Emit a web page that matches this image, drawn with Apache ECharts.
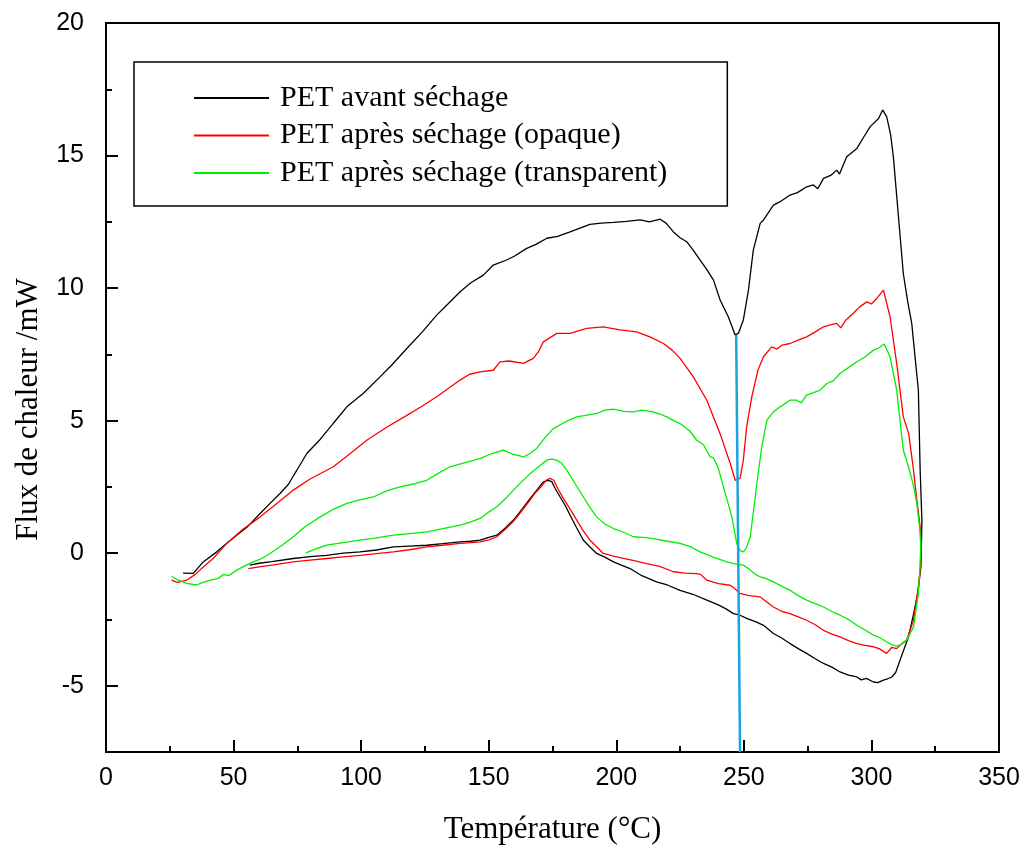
<!DOCTYPE html>
<html>
<head>
<meta charset="utf-8">
<script src="https://cdn.jsdelivr.net/npm/echarts@6/dist/echarts.min.js"></script>
<style>
html, body { margin: 0; padding: 0; background: #fff; }
#chart { width: 1022px; height: 847px; }
</style>
</head>
<body>
<div id="chart"></div>
<script>
// legend names
var seriesNames = ["PET avant séchage", "PET après séchage (opaque)", "PET après séchage (transparent)"];
var xTicks = [0, 50, 100, 150, 200, 250, 300, 350];
var yTicks = [-5, 0, 5, 10, 15, 20];

// [température, flux], upper branch then lower branch
var avantSechage = [
  [30.2,-0.75],[34.2,-0.76],[38.1,-0.33],[43.4,0.05],[47,0.35],[51.2,0.68],[55.5,1.0],[60.4,1.5],[64,1.85],[68.2,2.25],
  [71.5,2.6],[74.8,3.13],[78.7,3.76],[84,4.3],[89.1,4.9],[94.4,5.52],[100.9,6.03],[107.4,6.65],[112,7.1],[117.9,7.72],
  [124,8.35],[129.6,8.98],[134,9.4],[138.8,9.86],[143,10.2],[147.9,10.49],[151.8,10.87],[157,11.06],[160,11.2],[164.9,11.5],
  [168.5,11.65],[172.8,11.88],[177,11.95],[181.9,12.12],[185.5,12.25],[189.7,12.4],[194,12.45],[198.9,12.48],[204,12.52],
  [209.3,12.57],[213,12.5],[217.2,12.6],[219.5,12.45],[222.4,12.12],[225,11.9],[227.6,11.75],[230,11.45],[232.8,11.06],
  [235.5,10.7],[238.1,10.3],[240.7,9.55],[243.9,8.92],[246.6,8.23],[247.9,8.3],[249.8,8.8],[251.8,9.92],[253.7,11.43],
  [256.4,12.44],[257.7,12.57],[261.6,13.13],[264.2,13.26],[268.1,13.51],[271,13.6],[274.6,13.82],[277.3,13.89],[279,13.75],
  [281.2,14.14],[284,14.25],[286.4,14.45],[287.5,14.3],[290.3,14.95],[294.3,15.27],[297,15.7],[299.5,16.09],[302.8,16.4],
  [304.4,16.72],[306,16.46],[307.5,15.8],[308.6,14.95],[310.5,12.8],[312.5,10.55],[314.2,9.5],[315.8,8.67],[317.2,7.3],
  [318.4,6.15],[319.1,3.13],[319.8,1.2],[319.4,-0.5],[318.2,-1.5],[316.5,-2.3],[314.5,-3.16],[311.2,-4.04],[309.5,-4.5],
  [308,-4.67],[306,-4.75],[304.7,-4.79],[302.5,-4.88],[300.8,-4.86],[298,-4.72],[296,-4.78],[294.3,-4.67],[291,-4.6],
  [287.7,-4.48],[284.5,-4.3],[281.2,-4.16],[278,-3.98],[274.6,-3.78],[271.3,-3.6],[268.1,-3.41],[264.8,-3.2],[261.6,-3.03],
  [257.7,-2.72],[255,-2.6],[251.1,-2.46],[248.5,-2.34],[245.9,-2.28],[243,-2.1],[240,-1.95],[235.5,-1.77],[230,-1.55],
  [225,-1.4],[220,-1.2],[215.8,-1.08],[210,-0.85],[205.4,-0.58],[202,-0.45],[198.9,-0.33],[195.5,-0.15],[192.3,-0.01],
  [189.5,0.25],[187.1,0.49],[184.5,0.95],[181.9,1.43],[180,1.8],[178,2.12],[176,2.45],[174.7,2.7],[173.4,2.75],[171.4,2.69],
  [169,2.4],[166.2,2.06],[163,1.65],[159.7,1.25],[156.5,0.95],[153.2,0.68],[150,0.6],[146.6,0.49],[143,0.45],[138.8,0.43],
  [132,0.36],[125.7,0.3],[119,0.27],[112.6,0.24],[106,0.12],[99.6,0.05],[93,0.0],[86.5,-0.08],[80,-0.13],[73.4,-0.2],
  [65,-0.32],[60,-0.38],[56.4,-0.45]
];

var apresOpaque = [
  [25.7,-1.02],[28,-1.1],[31.6,-1.02],[35,-0.8],[38.1,-0.52],[42,-0.2],[47.3,0.37],[53,0.85],[60.4,1.37],[66,1.8],
  [73.4,2.38],[80,2.8],[89.1,3.26],[95,3.7],[102.2,4.26],[110,4.75],[117.9,5.2],[124,5.55],[129.6,5.9],[134,6.2],
  [138.8,6.53],[142.5,6.75],[146.6,6.84],[151.8,6.9],[154.4,7.22],[158,7.25],[163.6,7.16],[167.5,7.35],[169.5,7.6],
  [171.4,7.97],[176.7,8.29],[181.9,8.29],[188.4,8.48],[194.9,8.54],[201.5,8.42],[208,8.35],[213.2,8.16],[218.5,7.91],
  [222,7.65],[225,7.35],[230.2,6.65],[235.5,5.77],[240.7,4.5],[244.6,3.4],[246.6,2.75],[248.5,2.82],[249.8,3.51],
  [251.1,4.77],[253.1,5.9],[255.5,6.9],[257.7,7.41],[260.9,7.78],[263,7.7],[265,7.85],[268.1,7.91],[271.5,8.05],
  [274.6,8.16],[278,8.35],[281.2,8.54],[283.5,8.6],[286.4,8.67],[288,8.5],[290,8.8],[292.9,9.05],[295.5,9.3],[298.2,9.48],
  [300,9.4],[302.1,9.61],[304.7,9.92],[307.3,8.92],[309.9,7.16],[312.5,5.14],[314.6,4.51],[316.5,3.13],[317.8,2.0],
  [319.1,1.0],[319.5,0.37],[319.2,-0.5],[318.4,-1.27],[316.5,-2.53],[313.8,-3.28],[311.5,-3.45],[309.9,-3.6],[308,-3.55],
  [306,-3.78],[303,-3.6],[300.8,-3.53],[297.5,-3.48],[294.3,-3.41],[291,-3.3],[287.7,-3.16],[284.5,-3.05],[281.2,-2.91],
  [278,-2.7],[274.6,-2.53],[271.3,-2.4],[268.1,-2.28],[265,-2.2],[261.6,-2.03],[258.5,-1.8],[256.4,-1.65],[252,-1.6],
  [248.5,-1.52],[246,-1.3],[244.6,-1.21],[240,-1.15],[235.5,-1.02],[233,-0.8],[231.5,-0.77],[227,-0.75],[222.4,-0.7],
  [217,-0.5],[211.9,-0.39],[207,-0.28],[202.8,-0.2],[198.5,-0.1],[194.9,-0.01],[192.2,0.25],[189.7,0.49],[187,0.85],
  [184.5,1.25],[182,1.65],[179.3,2.06],[177,2.45],[175.5,2.75],[174,2.82],[172.5,2.75],[170.5,2.5],[168,2.25],[166.2,2.0],
  [163,1.6],[159.7,1.2],[156.5,0.9],[153.2,0.62],[150,0.5],[146.6,0.43],[143,0.4],[138.8,0.37],[132,0.3],[125.7,0.24],
  [119,0.13],[112.6,0.05],[106,-0.02],[99.6,-0.08],[93,-0.14],[86.5,-0.2],[80,-0.26],[73.4,-0.33],[65,-0.45],[60,-0.52],
  [55.8,-0.58]
];

var apresTransparent = [
  [25.7,-0.87],[28,-1.0],[31.6,-1.14],[35.5,-1.2],[38,-1.1],[40.8,-1.02],[44,-0.95],[46,-0.8],[48,-0.85],[51.2,-0.64],
  [54,-0.5],[57.7,-0.33],[61,-0.2],[64.3,-0.01],[69,0.3],[73.4,0.62],[78,1.0],[83.9,1.37],[89,1.65],[94.4,1.88],[99,2.0],
  [104.8,2.12],[110,2.35],[115.2,2.5],[120,2.6],[125.7,2.75],[130,3.0],[134.8,3.26],[140,3.4],[146.6,3.57],[151,3.75],
  [155.7,3.89],[159,3.75],[163.6,3.63],[166,3.75],[168.8,3.95],[172,4.35],[175.3,4.7],[180,4.95],[184.5,5.14],[188,5.2],
  [192.3,5.27],[195.5,5.4],[198.9,5.43],[203,5.35],[206.7,5.33],[210,5.4],[214.5,5.33],[217,5.25],[219.8,5.14],[222.5,5.0],
  [225,4.89],[228.9,4.6],[231.5,4.26],[234.1,4.1],[236.8,3.63],[238.1,3.6],[240,3.2],[242,2.5],[245.3,1.37],[247.2,0.37],
  [248.5,0.1],[249.8,0.05],[251,0.2],[252.5,0.62],[255.1,2.63],[257,4.0],[259,5.02],[261.6,5.33],[264.2,5.52],[268.1,5.77],
  [270.7,5.77],[272.5,5.67],[274.6,5.96],[277,6.05],[279.9,6.15],[282.5,6.4],[285,6.5],[287.7,6.78],[291,7.0],[294.3,7.22],
  [297.5,7.4],[300.8,7.66],[303,7.75],[305,7.89],[307.3,7.41],[309.9,6.15],[311.2,5.0],[312.5,3.89],[314.5,3.26],
  [316.5,2.55],[317.8,1.87],[319,0.9],[319.3,0.24],[319,-0.6],[318.4,-1.52],[316.5,-2.78],[313.8,-3.28],[311.5,-3.45],
  [309.9,-3.51],[308,-3.45],[306,-3.35],[303.5,-3.2],[300.8,-3.09],[297.5,-2.9],[294.3,-2.72],[291,-2.5],[287.7,-2.34],
  [284.5,-2.2],[281.2,-2.03],[278,-1.9],[274.6,-1.77],[271.3,-1.6],[268.1,-1.4],[265,-1.25],[261.6,-1.08],[258.5,-0.95],
  [256.4,-0.89],[255,-0.83],[252,-0.6],[249.8,-0.45],[246.5,-0.4],[243.3,-0.33],[238,-0.15],[232.8,0.05],[229,0.25],
  [225,0.37],[220,0.45],[214.5,0.55],[210.5,0.6],[206.7,0.62],[203,0.78],[198.9,0.93],[195.5,1.1],[192.3,1.37],[189.5,1.75],
  [187.1,2.12],[184,2.6],[180.6,3.13],[178.5,3.4],[176.7,3.51],[174.5,3.55],[172.8,3.51],[170,3.3],[166.2,3.0],[163,2.7],
  [159.7,2.38],[156.5,2.05],[153.2,1.75],[150,1.55],[146.6,1.31],[143,1.18],[138.8,1.06],[132,0.93],[125.7,0.8],
  [119,0.74],[112.6,0.68],[106,0.58],[99.6,0.49],[93,0.4],[86.5,0.3],[82,0.15],[78.3,0.01]
];

// blue marker line at the melting dip
var marqueurFusion = [[247, 8.23], [248.5, -7.5]];

var colorList = ["#000000", "#ff0000", "#00ee00"];
var curves = [avantSechage, apresOpaque, apresTransparent];

var myChart = echarts.init(document.getElementById("chart"), null, { renderer: "canvas" });

var _series = [];
for (var i = 0; i < curves.length; i++) {
  _series.push({
    name: seriesNames[i],
    type: "line",
    symbol: "none",
    showSymbol: false,
    data: curves[i],
    color: colorList[i],
    lineStyle: { width: 1.3, color: colorList[i] },
    xAxisIndex: 0,
    yAxisIndex: 0
  });
}
_series.push({
  name: "marqueur",
  type: "line",
  symbol: "none",
  data: marqueurFusion,
  lineStyle: { width: 2.5, color: "#1ba3e0" },
  xAxisIndex: 0,
  yAxisIndex: 0
});

var axisColor = "#000";
var option = {
  animation: false,
  backgroundColor: "#fff",
  grid: {
    left: 106,
    right: 23,
    top: 23,
    bottom: 95,
    show: true,
    borderColor: axisColor,
    borderWidth: 2,
    outerBoundsMode: "none"
  },
  legend: {
    data: seriesNames,
    orient: "vertical",
    left: 134,
    top: 62,
    padding: [21, 60, 18, 59],
    itemGap: 7.5,
    itemWidth: 75,
    itemHeight: 14,
    borderColor: "#000",
    borderWidth: 1.5,
    itemStyle: { opacity: 0 },
    textStyle: {
      fontFamily: "Liberation Serif",
      fontSize: 30,
      color: "#000",
      padding: [0, 0, 0, 6]
    }
  },
  xAxis: {
    type: "value",
    min: 0,
    max: 350,
    interval: 50,
    name: "Température (°C)",
    nameLocation: "middle",
    nameGap: 62,
    nameTextStyle: { fontFamily: "Liberation Serif", fontSize: 31, color: "#000" },
    axisLine: { show: true, onZero: false, lineStyle: { color: axisColor, width: 2 } },
    axisTick: { inside: true, length: 12, lineStyle: { color: axisColor, width: 2 } },
    minorTick: { show: true, splitNumber: 2, length: 6, lineStyle: { color: axisColor, width: 2 } },
    splitLine: { show: false },
    minorSplitLine: { show: false },
    axisLabel: {
      color: "#000",
      fontFamily: "Liberation Sans",
      fontSize: 25,
      margin: 14,
      customValues: xTicks
    }
  },
  yAxis: [
    {
      type: "value",
      min: -7.5,
      max: 20,
      position: "left",
      name: "Flux de chaleur /mW",
      nameLocation: "middle",
      nameGap: 62,
      nameTextStyle: {
        fontFamily: "Liberation Serif",
        fontSize: 31,
        color: "#000",
        padding: [0, 44, 0, 0]
      },
      axisLine: { show: true, onZero: false, lineStyle: { color: axisColor, width: 2 } },
      axisTick: { inside: true, length: 12, customValues: yTicks, lineStyle: { color: axisColor, width: 2 } },
      splitLine: { show: false },
      axisLabel: {
        color: "#000",
        fontFamily: "Liberation Sans",
        fontSize: 25,
        margin: 22,
        customValues: yTicks
      }
    },
    {
      // minor ticks every 2.5
      type: "value",
      min: -7.5,
      max: 20,
      interval: 2.5,
      position: "left",
      axisLine: { show: false, onZero: false },
      axisTick: { show: true, inside: true, length: 6, lineStyle: { color: axisColor, width: 2 } },
      axisLabel: { show: false },
      splitLine: { show: false }
    }
  ],
  series: _series
};

myChart.setOption(option);
window.addEventListener("resize", function() {
  myChart.resize();
});
</script>
</body>
</html>
